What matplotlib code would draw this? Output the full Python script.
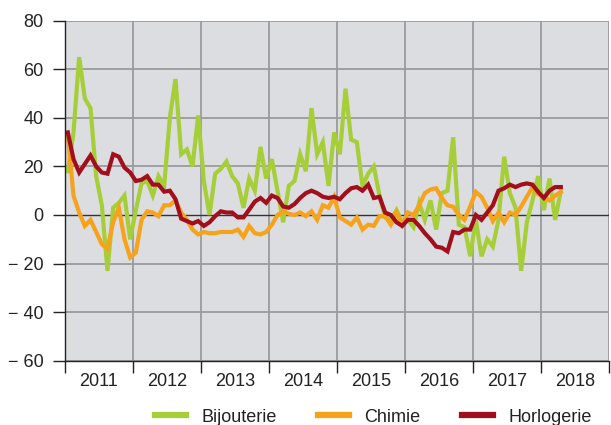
import matplotlib
matplotlib.use("Agg")
import matplotlib.pyplot as plt
import numpy as np

plt.rcParams['font.family'] = ['Liberation Sans', 'DejaVu Sans']

start_year = 2011
years = [2011, 2012, 2013, 2014, 2015, 2016, 2017, 2018]
y_ticks = [80, 60, 40, 20, 0, -20, -40, -60]
y_labels = ["80", "60", "40", "20", "0", "\u2212 20", "\u2212 40", "\u2212 60"]

bijouterie = [18, 34, 65, 48, 44, 16, 4, -23, 3, 5, 8, -10,
              2, 13, 14, 8, 16, 12, 40, 56, 25, 27, 20, 41,
              14, 0, 17, 19, 22, 16, 13, 3, 15, 10, 28, 15,
              23, 10, -3, 12, 14, 25, 18, 44, 25, 30, 12, 34,
              25, 52, 31, 30, 12, 17, 20, 8, -1, -2, 2, -3,
              -2, -5, 5, -2, 6, -6, 9, 10, 32, -4, -5, -17,
              -2, -17, -10, -13, -2, 24, 9, 3, -23, -3, 6, 16,
              2, 15, -2, 10]
chimie = [33, 8, 1, -4.5, -2, -7, -12, -14, -3, 3, -10, -17.5,
          -15.5, -2, 1.5, 1, -0.5, 4, 4, 6, 1, -2, -6, -8,
          -7, -7.5, -7.5, -7, -7, -7, -6, -9, -4.5, -7.5, -8, -7,
          -4, 0, 1.5, 0.5, 0, 1, -0.5, 1.5, -2, 4, 3, 7.5,
          -1, -2.5, -4, -1, -6, -4, -4.5, -0.5, -0.5, -4, 1, -4,
          1, 0, 4, 9, 10.5, 11, 7, 4, 3.4, 0, -2, 3.5,
          9.5, 7.5, 3, -2.5, 1, -3, 1, 0, 3.5, 7.5, 11.5, 8.5,
          7.5, 6, 8, 9.5]
horlogerie = [34, 23, 17.5, 21, 24.5, 20, 17.5, 17, 25, 24, 19.5, 17.5,
              14, 14.5, 16, 12.5, 12.5, 9.6, 10, 6.5, -1.5, -2.5, -3.5, -2.5,
              -4.5, -3, -0.5, 1.5, 1, 1, -1, -1, 2.2, 5.5, 7, 5,
              8, 7, 3.5, 3, 4.5, 7, 9, 10, 9, 7.5, 7, 7.5,
              6.5, 9, 11, 11.5, 10, 12.5, 7, 7.5, 1, 0, -3, -4.5,
              -2, -2, -4.5, -7.5, -10, -13, -13.5, -15, -7, -7.5, -6, -6,
              0, -2, 1, 4, 10, 11, 12.5, 11.5, 12.5, 13, 12.5, 9.5,
              7, 10, 11.5, 11.5]

series = [("Bijouterie", bijouterie, "#a6ce39"),
          ("Chimie", chimie, "#f7a21b"),
          ("Horlogerie", horlogerie, "#a20f1c")]

fig = plt.figure(figsize=(6.11, 4.25), dpi=100)
ax = fig.add_axes([65/611, (425-360.7)/425, (609-65)/611, (360.7-20.7)/425])
ax.set_facecolor("#dcdde0")

for name, vals, col in series:
    x = start_year + (np.arange(len(vals)) + 0.5) / 12
    ax.plot(x, vals, color=col, lw=3.0, label=name, zorder=3,
            solid_joinstyle='miter')

ax.set_xlim(2011, 2019)
ax.set_ylim(-60, 80)

# grid
for yv in y_ticks:
    if yv != 0:
        ax.axhline(yv, color="#9b9b9d", lw=1.3, zorder=1)
ax.axhline(0, color="#333333", lw=1.0, zorder=2)
for xv in range(2012, 2020):
    ax.axvline(xv, color="#9b9b9d", lw=1.3, zorder=1)

ax.set_yticks(y_ticks)
ax.set_yticklabels(y_labels)
ax.set_xticks(list(range(2011, 2020)))
ax.set_xticklabels([])
ax.set_xticks([y + 0.5 for y in years], minor=True)
ax.set_xticklabels([str(y) for y in years], minor=True)
ax.tick_params(axis='x', which='major', length=8.5, width=1.0, color="#222222", direction='out')
ax.tick_params(axis='x', which='minor', length=0, pad=9, labelsize=13, labelcolor="#222222")
ax.tick_params(axis='y', which='major', length=8.5, width=1.0, color="#222222", direction='out',
               pad=7, labelsize=13, labelcolor="#222222")

for s in ['top', 'right']:
    ax.spines[s].set_visible(False)
for s in ['left', 'bottom']:
    ax.spines[s].set_color("#222222")
    ax.spines[s].set_linewidth(1.0)
    ax.spines[s].set_zorder(4)

handles, labels = ax.get_legend_handles_labels()
leg = fig.legend(handles, labels, loc='center', bbox_to_anchor=(373.5/611, 1 - 417/425),
                 ncol=3, frameon=False, fontsize=13, handlelength=1.7, handletextpad=0.85,
                 columnspacing=2.3, labelcolor="#222222")
for lh in leg.get_lines():
    lh.set_linewidth(4.5)

fig.savefig("out.png", dpi=100)
